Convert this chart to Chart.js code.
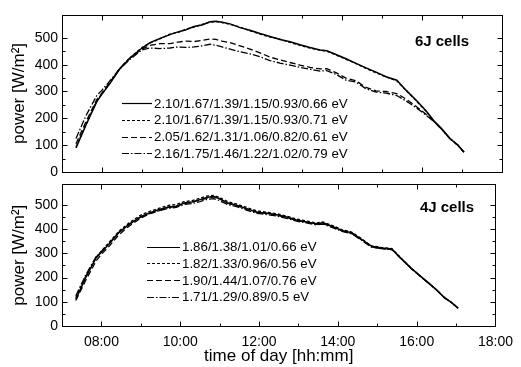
<!DOCTYPE html>
<html>
<head>
<meta charset="utf-8">
<script src="https://cdn.jsdelivr.net/npm/chart.js@4.4.1/dist/chart.umd.min.js"></script>
<style>
  html, body { margin: 0; padding: 0; background: #fff; }
  #wrap { position: relative; width: 521px; height: 367px; overflow: hidden; }
  #top { position: absolute; left: 0; top: 0; }
  #bottom { position: absolute; left: 0; top: 172px; }
</style>
</head>
<body>
<div id="wrap">
  <canvas id="top" width="521" height="186"></canvas>
  <canvas id="bottom" width="521" height="195"></canvas>
</div>
<script>
// time of day in decimal hours
const hours = [7.35, 7.6, 7.87, 8.0, 8.2, 8.45, 8.7, 9.0, 9.2, 9.45, 9.7, 9.9,
  10.1, 10.3, 10.5, 10.7, 10.85, 11.0, 11.2, 11.45, 11.7, 11.95, 12.2, 12.45,
  12.7, 12.95, 13.2, 13.45, 13.62, 13.85, 14.1, 14.35, 14.6, 14.85, 15.1, 15.37,
  15.6, 15.85, 16.1, 16.3, 16.5, 16.7, 16.9, 17.05];

// 6J cells
const sixJLabels = [
  '2.10/1.67/1.39/1.15/0.93/0.66 eV',
  '2.10/1.67/1.39/1.15/0.93/0.71 eV',
  '2.05/1.62/1.31/1.06/0.82/0.61 eV',
  '2.16/1.75/1.46/1.22/1.02/0.79 eV'
];
const sixJ_a = [90, 175, 262, 290, 330, 385, 425, 462, 482, 498, 512, 522,
  530, 542, 548, 560, 562, 558, 552, 538, 528, 516, 505, 494,
  485, 474, 464, 455, 452, 438, 422, 405, 388, 372, 355, 342,
  305, 268, 228, 190, 160, 125, 100, 74];
const sixJ_b = [93, 178, 265, 292, 332, 387, 426, 464, 480, 496, 514, 520,
  532, 540, 550, 558, 560, 557, 550, 540, 526, 514, 503, 495,
  483, 472, 462, 454, 450, 436, 420, 404, 386, 370, 354, 340,
  304, 266, 226, 189, 158, 124, 99, 73];
const sixJ_c = [105, 188, 270, 295, 335, 388, 425, 458, 472, 478, 478, 484,
  488, 486, 490, 496, 494, 488, 482, 470, 458, 444, 428, 418,
  408, 398, 390, 384, 385, 370, 350, 340, 315, 302, 300, 292,
  272, 245, 215, 188, 158, 124, 100, 74];
const sixJ_d = [125, 210, 285, 305, 340, 385, 420, 455, 462, 460, 462, 466,
  464, 466, 470, 476, 472, 466, 458, 448, 440, 430, 415, 406,
  398, 390, 383, 376, 378, 364, 342, 335, 310, 298, 294, 285,
  265, 240, 212, 188, 158, 124, 100, 74];

// 4J cells
const fourJLabels = [
  '1.86/1.38/1.01/0.66 eV',
  '1.82/1.33/0.96/0.56 eV',
  '1.90/1.44/1.07/0.76 eV',
  '1.71/1.29/0.89/0.5 eV'
];
const fourJ_a = [110, 200, 282, 305, 340, 387, 420, 452, 466, 480, 492, 495,
  508, 512, 522, 532, 535, 526, 508, 498, 484, 470, 466, 460,
  450, 438, 430, 422, 426, 412, 395, 385, 358, 330, 322, 318,
  280, 240, 205, 178, 150, 118, 95, 74];
const fourJ_b = [118, 205, 285, 310, 346, 392, 426, 458, 472, 486, 498, 502,
  514, 518, 528, 538, 540, 531, 514, 503, 489, 475, 470, 464,
  454, 442, 434, 426, 430, 416, 398, 388, 361, 331, 325, 320,
  281, 241, 205, 178, 150, 118, 95, 74];
const fourJ_c = [105, 188, 270, 296, 330, 378, 412, 446, 462, 476, 490, 494,
  506, 512, 520, 530, 534, 525, 508, 497, 483, 470, 465, 458,
  448, 437, 428, 420, 424, 410, 393, 383, 356, 327, 320, 316,
  279, 239, 204, 177, 149, 117, 94, 73];
const fourJ_d = [125, 210, 288, 308, 342, 388, 420, 450, 463, 476, 486, 490,
  502, 506, 514, 524, 526, 518, 502, 492, 478, 465, 460, 454,
  445, 433, 426, 418, 421, 407, 391, 381, 355, 326, 320, 316,
  279, 240, 205, 178, 150, 118, 95, 74];

const xTickHours = [8, 10, 12, 14, 16, 18];
const xTickLabels = ['08:00', '10:00', '12:00', '14:00', '16:00', '18:00'];
const yTickLabels = ['0', '100', '200', '300', '400', '500'];

const dashes = [[], [3, 2], [6, 3], [7, 2, 1.5, 2]];
const FONT = '"Liberation Sans", Arial, sans-serif';

Chart.defaults.font.family = FONT;
Chart.defaults.color = '#000';

function makeDatasets(labels, series) {
  return series.map((vals, i) => ({
    label: labels[i],
    data: vals.map((v, j) => ({ x: hours[j], y: v })),
    borderColor: '#000',
    borderWidth: i === 0 ? 1.5 : 1.3,
    borderDash: dashes[i],
    pointRadius: 0,
    fill: false,
    tension: 0
  }));
}

// frame, inward ticks, legend and panel label
const panelDecor = {
  id: 'panelDecor',
  afterDraw(chart, args, opts) {
    const { ctx, chartArea: a, scales: { x, y } } = chart;
    const L = Math.round(a.left) + 0.5, R = Math.round(a.right) + 0.5;
    const T = Math.round(a.top) + 0.5, B = Math.round(a.bottom) + 0.5;
    ctx.save();
    ctx.strokeStyle = '#000';
    ctx.lineWidth = 1;
    ctx.setLineDash([]);
    ctx.strokeRect(L, T, R - L, B - T);
    ctx.beginPath();
    x.ticks.forEach(t => {
      const px = Math.round(x.getPixelForValue(t.value)) + 0.5;
      const len = t.value % 2 === 0 ? 5 : 3;
      ctx.moveTo(px, B); ctx.lineTo(px, B - len);
      ctx.moveTo(px, T); ctx.lineTo(px, T + len);
    });
    y.ticks.forEach(t => {
      if (t.value % 50 !== 0) return;
      const py = Math.round(y.getPixelForValue(t.value)) + 0.5;
      const len = t.value % 100 === 0 ? 5 : 3;
      ctx.moveTo(L, py); ctx.lineTo(L + len, py);
      ctx.moveTo(R, py); ctx.lineTo(R - len, py);
    });
    ctx.stroke();

    // legend
    const lg = opts.legend;
    ctx.font = '13.3px ' + FONT;
    ctx.fillStyle = '#000';
    ctx.textAlign = 'left';
    ctx.textBaseline = 'middle';
    chart.data.datasets.forEach((ds, i) => {
      const ly = lg.y0 + i * lg.dy;
      ctx.beginPath();
      ctx.setLineDash(ds.borderDash);
      ctx.lineWidth = 1.2;
      ctx.moveTo(lg.x0, Math.round(ly) + 0.5);
      ctx.lineTo(lg.x1, Math.round(ly) + 0.5);
      ctx.stroke();
      ctx.fillText(ds.label, lg.textX, ly + 1);
    });
    ctx.setLineDash([]);

    // panel name
    ctx.font = 'bold 15px ' + FONT;
    ctx.textAlign = 'center';
    ctx.fillText(opts.name.text, opts.name.x, opts.name.y);
    ctx.restore();
  }
};

function yAxis() {
  return {
    min: 0,
    max: 585,
    afterFit: s => { s.width = 62; },
    grid: { display: false, drawTicks: false },
    border: { display: false },
    ticks: {
      stepSize: 50,
      autoSkip: false,
      padding: 4,
      font: { size: 14 },
      callback: v => v % 100 === 0 ? yTickLabels[v / 100] : ''
    },
    title: {
      display: true,
      text: 'power [W/m²]',
      font: { size: 17 },
      padding: { top: 9, bottom: 0 }
    }
  };
}

function xAxis(showLabels) {
  return {
    type: 'linear',
    min: 7,
    max: 18,
    afterFit: s => { s.height = showLabels ? 41 : 0; },
    grid: { display: false, drawTicks: false },
    border: { display: false },
    ticks: {
      display: showLabels,
      stepSize: 1,
      autoSkip: false,
      maxRotation: 0,
      padding: 8,
      font: { size: 14 },
      callback: v => {
        const k = xTickHours.indexOf(v);
        return k >= 0 ? xTickLabels[k] : '';
      }
    },
    title: {
      display: showLabels,
      text: 'time of day [hh:mm]',
      font: { size: 17 },
      padding: { top: 0, bottom: 0 }
    }
  };
}

function buildPanel(id, labels, series, padding, showX, decor) {
  const ctx = document.getElementById(id).getContext('2d');
  new Chart(ctx, {
    type: 'line',
    data: { datasets: makeDatasets(labels, series) },
    options: {
      responsive: false,
      animation: false,
      layout: { padding },
      plugins: {
        legend: { display: false },
        tooltip: { enabled: false },
        panelDecor: decor
      },
      scales: { x: xAxis(showX), y: yAxis() }
    },
    plugins: [panelDecor]
  });
}

buildPanel('top', sixJLabels, [sixJ_a, sixJ_b, sixJ_c, sixJ_d],
  { left: 0, right: 19, top: 15, bottom: 14 }, false,
  { legend: { x0: 122, x1: 152, textX: 154, y0: 103, dy: 16.8 },
    name: { text: '6J cells', x: 442, y: 42 } });

buildPanel('bottom', fourJLabels, [fourJ_a, fourJ_b, fourJ_c, fourJ_d],
  { left: 0, right: 19, top: 0, bottom: 0 }, true,
  { legend: { x0: 147, x1: 180, textX: 182, y0: 74.7, dy: 16.7 },
    name: { text: '4J cells', x: 447, y: 36 } });
</script>
</body>
</html>
